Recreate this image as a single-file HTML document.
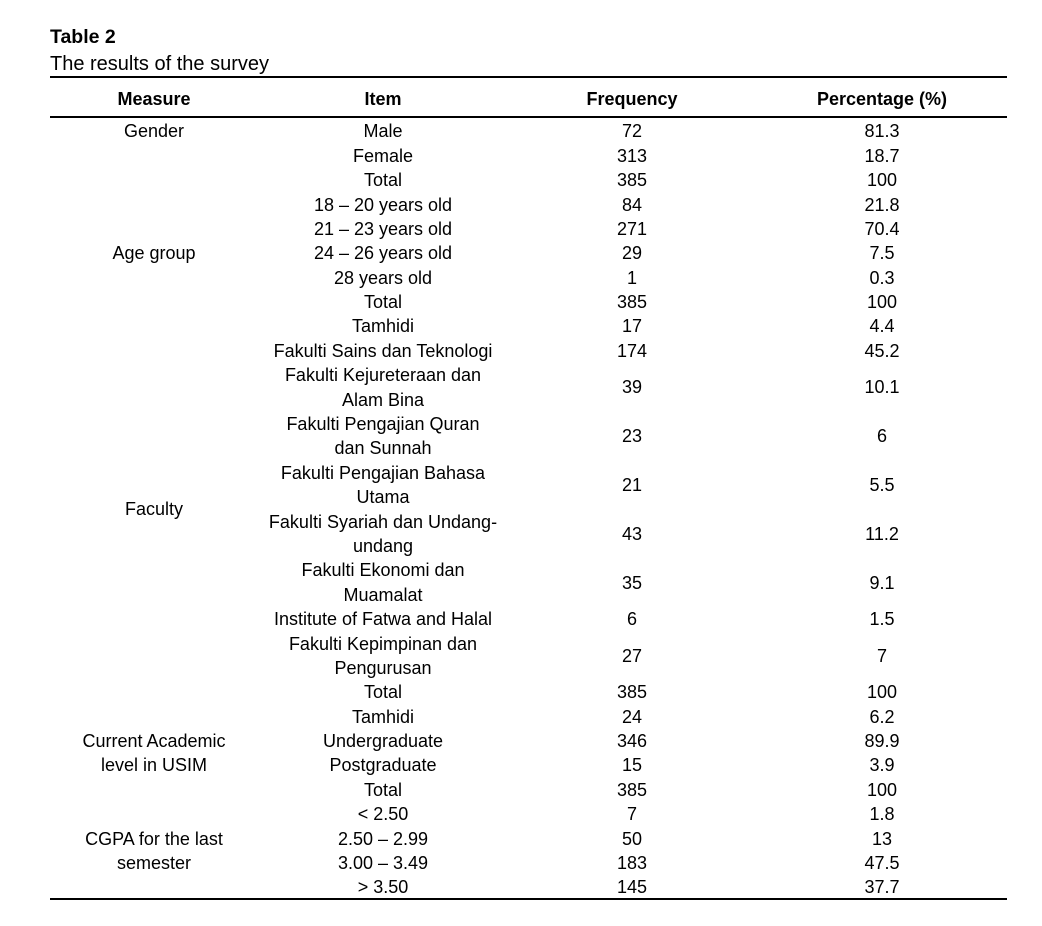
<!DOCTYPE html>
<html>
<head>
<meta charset="utf-8">
<style>
  html, body { margin:0; padding:0; background:#fff; }
  body { width:1042px; height:926px; position:relative; overflow:hidden;
         font-family:"Liberation Sans", Arial, sans-serif; color:#000; }
  .t { position:absolute; white-space:nowrap; font-size:18px; line-height:24px;
       transform:translateX(-50%); }
  .b { font-weight:bold; }
  .line { position:absolute; left:50px; width:957px; height:2px; background:#000; }
  .m { left:154px; }
  .i { left:383px; }
  .f { left:632px; }
  .p { left:882px; }
</style>
</head>
<body>
  <div style="position:absolute;left:50px;top:25.2px;font-size:19.5px;line-height:24px;font-weight:bold;white-space:nowrap;">Table 2</div>
  <div style="position:absolute;left:50px;top:51.8px;font-size:20px;line-height:24px;white-space:nowrap;">The results of the survey</div>

  <div class="line" style="top:76px;"></div>
  <div class="line" style="top:116px;"></div>
  <div class="line" style="top:898px;"></div>

  <!-- Header -->
  <div class="t b m" style="top:86.8px;">Measure</div>
  <div class="t b i" style="top:86.8px;">Item</div>
  <div class="t b f" style="top:86.8px;">Frequency</div>
  <div class="t b p" style="top:86.8px;">Percentage (%)</div>

  <!-- Measure column -->
  <div class="t m" style="top:119.3px;">Gender</div>
  <div class="t m" style="top:241.3px;">Age group</div>
  <div class="t m" style="top:497.3px;">Faculty</div>
  <div class="t m" style="top:729.1px;">Current Academic</div>
  <div class="t m" style="top:753.4px;">level in USIM</div>
  <div class="t m" style="top:826.6px;">CGPA for the last</div>
  <div class="t m" style="top:851.0px;">semester</div>

  <!-- Item column -->
  <div class="t i" style="top:119.3px;">Male</div>
  <div class="t i" style="top:143.7px;">Female</div>
  <div class="t i" style="top:168.1px;">Total</div>
  <div class="t i" style="top:192.5px;">18 – 20 years old</div>
  <div class="t i" style="top:216.9px;">21 – 23 years old</div>
  <div class="t i" style="top:241.3px;">24 – 26 years old</div>
  <div class="t i" style="top:265.6px;">28 years old</div>
  <div class="t i" style="top:290.0px;">Total</div>
  <div class="t i" style="top:314.4px;">Tamhidi</div>
  <div class="t i" style="top:338.8px;">Fakulti Sains dan Teknologi</div>
  <div class="t i" style="top:363.2px;">Fakulti Kejureteraan dan</div>
  <div class="t i" style="top:387.6px;">Alam Bina</div>
  <div class="t i" style="top:412.0px;">Fakulti Pengajian Quran</div>
  <div class="t i" style="top:436.4px;">dan Sunnah</div>
  <div class="t i" style="top:460.8px;">Fakulti Pengajian Bahasa</div>
  <div class="t i" style="top:485.2px;">Utama</div>
  <div class="t i" style="top:509.5px;">Fakulti Syariah dan Undang-</div>
  <div class="t i" style="top:533.9px;">undang</div>
  <div class="t i" style="top:558.3px;">Fakulti Ekonomi dan</div>
  <div class="t i" style="top:582.7px;">Muamalat</div>
  <div class="t i" style="top:607.1px;">Institute of Fatwa and Halal</div>
  <div class="t i" style="top:631.5px;">Fakulti Kepimpinan dan</div>
  <div class="t i" style="top:655.9px;">Pengurusan</div>
  <div class="t i" style="top:680.3px;">Total</div>
  <div class="t i" style="top:704.7px;">Tamhidi</div>
  <div class="t i" style="top:729.1px;">Undergraduate</div>
  <div class="t i" style="top:753.4px;">Postgraduate</div>
  <div class="t i" style="top:777.8px;">Total</div>
  <div class="t i" style="top:802.2px;">&lt; 2.50</div>
  <div class="t i" style="top:826.6px;">2.50 – 2.99</div>
  <div class="t i" style="top:851.0px;">3.00 – 3.49</div>
  <div class="t i" style="top:875.4px;">&gt; 3.50</div>

  <!-- Frequency column -->
  <div class="t f" style="top:119.3px;">72</div>
  <div class="t f" style="top:143.7px;">313</div>
  <div class="t f" style="top:168.1px;">385</div>
  <div class="t f" style="top:192.5px;">84</div>
  <div class="t f" style="top:216.9px;">271</div>
  <div class="t f" style="top:241.3px;">29</div>
  <div class="t f" style="top:265.6px;">1</div>
  <div class="t f" style="top:290.0px;">385</div>
  <div class="t f" style="top:314.4px;">17</div>
  <div class="t f" style="top:338.8px;">174</div>
  <div class="t f" style="top:375.4px;">39</div>
  <div class="t f" style="top:424.2px;">23</div>
  <div class="t f" style="top:473.0px;">21</div>
  <div class="t f" style="top:521.7px;">43</div>
  <div class="t f" style="top:570.5px;">35</div>
  <div class="t f" style="top:607.1px;">6</div>
  <div class="t f" style="top:643.7px;">27</div>
  <div class="t f" style="top:680.3px;">385</div>
  <div class="t f" style="top:704.7px;">24</div>
  <div class="t f" style="top:729.1px;">346</div>
  <div class="t f" style="top:753.4px;">15</div>
  <div class="t f" style="top:777.8px;">385</div>
  <div class="t f" style="top:802.2px;">7</div>
  <div class="t f" style="top:826.6px;">50</div>
  <div class="t f" style="top:851.0px;">183</div>
  <div class="t f" style="top:875.4px;">145</div>

  <!-- Percentage column -->
  <div class="t p" style="top:119.3px;">81.3</div>
  <div class="t p" style="top:143.7px;">18.7</div>
  <div class="t p" style="top:168.1px;">100</div>
  <div class="t p" style="top:192.5px;">21.8</div>
  <div class="t p" style="top:216.9px;">70.4</div>
  <div class="t p" style="top:241.3px;">7.5</div>
  <div class="t p" style="top:265.6px;">0.3</div>
  <div class="t p" style="top:290.0px;">100</div>
  <div class="t p" style="top:314.4px;">4.4</div>
  <div class="t p" style="top:338.8px;">45.2</div>
  <div class="t p" style="top:375.4px;">10.1</div>
  <div class="t p" style="top:424.2px;">6</div>
  <div class="t p" style="top:473.0px;">5.5</div>
  <div class="t p" style="top:521.7px;">11.2</div>
  <div class="t p" style="top:570.5px;">9.1</div>
  <div class="t p" style="top:607.1px;">1.5</div>
  <div class="t p" style="top:643.7px;">7</div>
  <div class="t p" style="top:680.3px;">100</div>
  <div class="t p" style="top:704.7px;">6.2</div>
  <div class="t p" style="top:729.1px;">89.9</div>
  <div class="t p" style="top:753.4px;">3.9</div>
  <div class="t p" style="top:777.8px;">100</div>
  <div class="t p" style="top:802.2px;">1.8</div>
  <div class="t p" style="top:826.6px;">13</div>
  <div class="t p" style="top:851.0px;">47.5</div>
  <div class="t p" style="top:875.4px;">37.7</div>
</body>
</html>
